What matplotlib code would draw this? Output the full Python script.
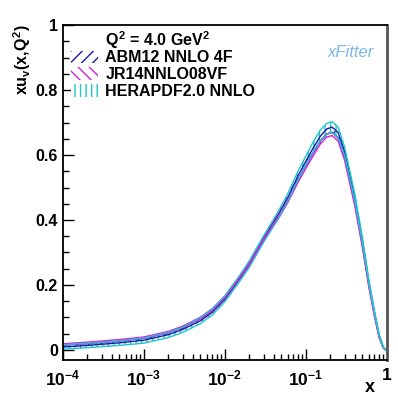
import math

import matplotlib
matplotlib.use("Agg")
import matplotlib.pyplot as plt
from matplotlib.patches import Patch
from matplotlib.ticker import FixedLocator, FuncFormatter, LogLocator, MultipleLocator

plt.rcParams["font.family"] = ["Liberation Sans", "DejaVu Sans"]
plt.rcParams["font.weight"] = "bold"
plt.rcParams["mathtext.fontset"] = "custom"
plt.rcParams["mathtext.rm"] = "Liberation Sans:bold"
plt.rcParams["mathtext.it"] = "Liberation Sans:bold"
plt.rcParams["mathtext.bf"] = "Liberation Sans:bold"
plt.rcParams["hatch.linewidth"] = 1.0

# values
x = [1e-4, 2e-4, 5e-4, 1e-3, 2e-3, 3e-3, 5e-3, 7e-3, 1e-2, 1.5e-2, 2e-2, 3e-2, 4.5e-2,
     6e-2, 8e-2, 0.1, 0.12, 0.15, 0.18, 0.21, 0.25, 0.3, 0.4, 0.5, 0.6, 0.7, 0.8, 0.9, 0.95, 1.0]

abm_c = [0.012, 0.017, 0.025, 0.033, 0.050, 0.066, 0.094, 0.120, 0.160, 0.220, 0.265, 0.340, 0.410,
         0.465, 0.530, 0.575, 0.610, 0.650, 0.672, 0.678, 0.662, 0.605, 0.465, 0.330, 0.205, 0.115,
         0.045, 0.008, 0.002, 0.0]
abm_e = [0.003, 0.003, 0.003, 0.003, 0.003, 0.003, 0.004, 0.004, 0.004, 0.004, 0.004, 0.004, 0.005,
         0.005, 0.006, 0.006, 0.007, 0.007, 0.008, 0.008, 0.008, 0.007, 0.006, 0.005, 0.004, 0.003,
         0.002, 0.001, 0.001, 0.0]

jr_c = [0.017, 0.022, 0.030, 0.038, 0.055, 0.071, 0.098, 0.124, 0.163, 0.222, 0.265, 0.338, 0.405,
        0.458, 0.520, 0.563, 0.598, 0.638, 0.660, 0.665, 0.648, 0.590, 0.450, 0.318, 0.195, 0.108,
        0.041, 0.007, 0.002, 0.0]
jr_e = [0.002, 0.002, 0.002, 0.002, 0.002, 0.002, 0.003, 0.003, 0.003, 0.003, 0.003, 0.003, 0.004,
        0.004, 0.004, 0.004, 0.005, 0.005, 0.005, 0.005, 0.005, 0.005, 0.004, 0.004, 0.003, 0.003,
        0.002, 0.001, 0.001, 0.0]

hera_c = [0.009, 0.014, 0.021, 0.029, 0.046, 0.062, 0.090, 0.117, 0.157, 0.218, 0.264, 0.341, 0.413,
          0.470, 0.537, 0.583, 0.620, 0.660, 0.680, 0.686, 0.670, 0.612, 0.472, 0.337, 0.210, 0.118,
          0.047, 0.009, 0.002, 0.0]
hera_e = [0.007, 0.007, 0.007, 0.008, 0.008, 0.008, 0.009, 0.009, 0.009, 0.009, 0.010, 0.010, 0.011,
          0.012, 0.013, 0.014, 0.015, 0.016, 0.017, 0.017, 0.016, 0.014, 0.011, 0.009, 0.007, 0.005,
          0.003, 0.002, 0.001, 0.0]

series = [
    ("ABM12 NNLO 4F", abm_c, abm_e, "#1c1ca8", "///"),
    ("JR14NNLO08VF", jr_c, jr_e, "#d81ed8", "\\\\\\"),
    ("HERAPDF2.0 NNLO", hera_c, hera_e, "#22c4cc", "|||"),
]

fig = plt.figure(figsize=(3.98, 4.11), dpi=100)
ax = fig.add_axes([0.158, 0.124, 0.814, 0.815])

handles = []
for label, c, e, col, hatch in series:
    lo = [ci - ei for ci, ei in zip(c, e)]
    hi = [ci + ei for ci, ei in zip(c, e)]
    ax.fill_between(x, lo, hi, facecolor="none", edgecolor=col, hatch=hatch, linewidth=0)
    ax.plot(x, lo, color=col, lw=1.0)
    ax.plot(x, hi, color=col, lw=1.0)
    handles.append(Patch(facecolor="white", edgecolor=col, hatch=hatch, linewidth=0, label=label))

ax.set_xscale("log")
ax.set_xlim(1e-4, 1.0)
ax.set_ylim(-0.031, 1.0)

ax.yaxis.set_major_locator(FixedLocator([0, 0.2, 0.4, 0.6, 0.8, 1.0]))
ax.yaxis.set_minor_locator(MultipleLocator(0.05))
ax.yaxis.set_major_formatter(FuncFormatter(
    lambda v, p: "0" if abs(v) < 1e-9 else ("1" if abs(v - 1) < 1e-9 else f"{v:.1f}")))
ax.xaxis.set_major_locator(LogLocator(base=10, numticks=10))
ax.xaxis.set_minor_locator(LogLocator(base=10, subs=range(2, 10), numticks=10))


def xfmt(v, p):
    if abs(v - 1) < 1e-9:
        return "1"
    return r"$10^{%d}$" % round(math.log10(v))


ax.xaxis.set_major_formatter(FuncFormatter(xfmt))
ax.tick_params(which="both", direction="in", top=False, right=False, width=1.0)
ax.tick_params(axis="y", labelsize=11.5)
ax.tick_params(axis="x", labelsize=12.5, pad=6)
ax.tick_params(which="major", length=8)
ax.tick_params(which="minor", length=4)
for lab in ax.get_yticklabels() + ax.get_xticklabels():
    lab.set_fontweight("bold")
for s in ax.spines.values():
    s.set_linewidth(1.3)
ax.spines["right"].set_color("#555555")
ax.spines["right"].set_linewidth(2.0)

fig.text(0.055, 0.94, r"$xu_{v}(x{,}Q^{2})$", rotation=90, ha="center", va="top", fontsize=11.5)
fig.text(0.93, 0.056, "x", ha="center", va="center", fontsize=13, fontweight="bold")

ax.text(0.13, 0.955, r"$Q^{2}$ = 4.0 GeV$^{2}$", transform=ax.transAxes,
        ha="left", va="center", fontsize=11.5, fontweight="bold")
leg = ax.legend(handles=handles, loc="upper left", bbox_to_anchor=(0.025, 0.925),
                frameon=False, fontsize=11.5, handlelength=1.7, handleheight=0.8,
                labelspacing=0.12, handletextpad=0.45, borderaxespad=0, borderpad=0)
for t in leg.get_texts():
    t.set_fontweight("bold")

ax.text(0.89, 0.919, "xFitter", transform=ax.transAxes, ha="center", va="center",
        fontsize=12, style="italic", fontweight="normal", color="#7ab8e8")

fig.savefig("out.png", dpi=100)
